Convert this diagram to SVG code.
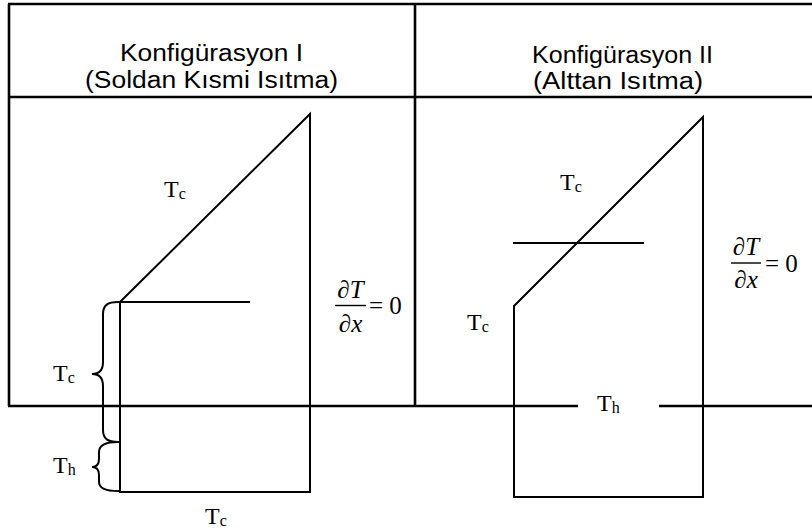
<svg xmlns="http://www.w3.org/2000/svg" width="812" height="532" viewBox="0 0 812 532">
<style>
.ln{stroke:#000;stroke-width:2;fill:none;stroke-linecap:square}
.tb{stroke:#000;stroke-width:2.6;fill:none}
.hd{font-family:"Liberation Sans",Arial,sans-serif;font-size:23px;fill:#000}
.lb{font-family:"Liberation Serif","Times New Roman",serif;font-size:24px;fill:#000}
.sb{font-size:16px}
.mt{font-family:"Liberation Serif","Times New Roman",serif;font-size:25px;fill:#000}
.it{font-style:italic}
.bar{stroke:#000;stroke-width:1.4}
</style>
<rect width="812" height="532" fill="#fff"/>
<g id="table">
<line class="tb" x1="8" y1="4" x2="812" y2="4"/>
<line class="tb" x1="9" y1="4" x2="9" y2="406"/>
<line class="tb" x1="9" y1="97" x2="812" y2="97"/>
<line class="tb" x1="415" y1="4" x2="415" y2="406"/>
<line class="tb" x1="8" y1="406" x2="578" y2="406"/>
<line class="tb" x1="659" y1="406" x2="812" y2="406"/>
</g>
<g id="header1">
<text class="hd" x="120" y="61" textLength="183" lengthAdjust="spacingAndGlyphs">Konfigürasyon I</text>
<text class="hd" x="85" y="88" textLength="253" lengthAdjust="spacingAndGlyphs">(Soldan Kısmi Isıtma)</text>
</g>
<g id="header2">
<text class="hd" x="532" y="63" textLength="181" lengthAdjust="spacingAndGlyphs">Konfigürasyon II</text>
<text class="hd" x="533" y="89" textLength="170" lengthAdjust="spacingAndGlyphs">(Alttan Isıtma)</text>
</g>
<g id="shape1">
<polygon class="ln" points="120,302 310,114 310,492 120,492"/>
<line class="ln" x1="120" y1="302" x2="249" y2="302"/>
</g>
<g id="shape2">
<polygon class="ln" points="514,306 703,117 703,497 514,497"/>
<line class="ln" x1="514" y1="243" x2="643" y2="243"/>
</g>
<g id="braces">
<path class="ln" stroke-width="1.8" d="M118,302 C108,302 103,305 103,314 L103,362 C103,370 100,374 92,374 C100,374 103,378 103,386 L103,430 C103,439 108,442 118,442"/>
<path class="ln" stroke-width="1.8" d="M118,442 C105,442 99,445 99,452 L99,459 C99,464 97,467 92,467 C97,467 99,470 99,475 L99,482 C99,488 105,491 118,491"/>
</g>
<g id="labels">
<text class="lb" x="164" y="197">T<tspan class="sb" dy="2">c</tspan></text>
<text class="lb" x="53" y="381">T<tspan class="sb" dy="2">c</tspan></text>
<text class="lb" x="53" y="473">T<tspan class="sb" dy="2">h</tspan></text>
<text class="lb" x="205" y="524">T<tspan class="sb" dy="2">c</tspan></text>
<text class="lb" x="560" y="190">T<tspan class="sb" dy="2">c</tspan></text>
<text class="lb" x="467" y="330">T<tspan class="sb" dy="2">c</tspan></text>
<text class="lb" x="597" y="411">T<tspan class="sb" dy="2">h</tspan></text>
</g>
<g id="math1">
<text class="mt" x="350.5" y="298" text-anchor="middle">∂<tspan class="it">T</tspan></text>
<line class="bar" x1="335" y1="305.5" x2="366" y2="305.5"/>
<text class="mt" x="350.5" y="332" text-anchor="middle">∂<tspan class="it">x</tspan></text>
<text class="mt" x="369" y="314">= 0</text>
</g>
<g id="math2">
<text class="mt" x="746" y="255" text-anchor="middle">∂<tspan class="it">T</tspan></text>
<line class="bar" x1="731" y1="263" x2="761" y2="263"/>
<text class="mt" x="746" y="288" text-anchor="middle">∂<tspan class="it">x</tspan></text>
<text class="mt" x="765" y="272">= 0</text>
</g>
</svg>
